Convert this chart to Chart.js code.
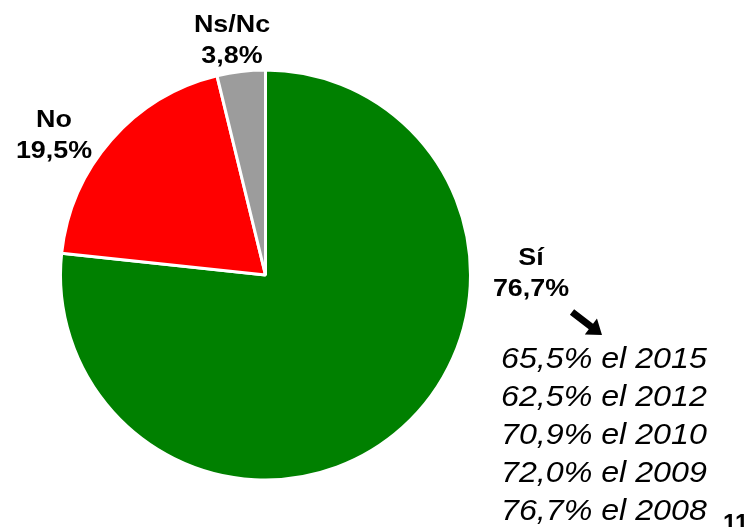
<!DOCTYPE html>
<html>
<head>
<meta charset="utf-8">
<script src="https://cdn.jsdelivr.net/npm/chart.js@4/dist/chart.umd.min.js"></script>
<style>
html,body{margin:0;padding:0;background:#fff;}
canvas{display:block;}
</style>
</head>
<body>
<canvas id="c" width="755" height="527"></canvas>
<script>
const categories = ['Sí', 'No', 'Ns/Nc'];
const values = [76.7, 19.5, 3.8];
const sliceColors = ['#008000', '#FF0000', '#9C9C9C'];
const historyYears = [2015, 2012, 2010, 2009, 2008];
const historyValues = [65.5, 62.5, 70.9, 72.0, 76.7];
const pageNumber = '11';

function fmt(v) { return v.toFixed(1).replace('.', ',') + '%'; }

// label anchor positions (center x, baseline of first line)
const labelPos = [
  {x: 531, y: 265},
  {x: 54, y: 127},
  {x: 232, y: 32}
];

function drawScaled(ctx, text, x, y, align, sx) {
  ctx.save();
  ctx.translate(x, y);
  ctx.scale(sx, 1);
  ctx.textAlign = align;
  ctx.fillText(text, 0, 0);
  ctx.restore();
}

const textPlugin = {
  id: 'texts',
  afterDraw(chart) {
    const ctx = chart.ctx;
    ctx.save();
    ctx.fillStyle = '#000';
    ctx.textBaseline = 'alphabetic';
    ctx.font = 'bold 24px "Liberation Sans", Arial, sans-serif';
    categories.forEach((c, i) => {
      const p = labelPos[i];
      drawScaled(ctx, c, p.x, p.y, 'center', 1.12);
      drawScaled(ctx, fmt(values[i]), p.x, p.y + 31, 'center', 1.12);
    });
    // arrow
    ctx.save();
    ctx.translate(572, 312);
    ctx.rotate(Math.atan2(335 - 312, 602 - 572));
    const len = Math.hypot(602 - 572, 335 - 312);
    ctx.beginPath();
    ctx.moveTo(0, -3.5);
    ctx.lineTo(len - 14, -3.5);
    ctx.lineTo(len - 14, -10);
    ctx.lineTo(len, 0);
    ctx.lineTo(len - 14, 10);
    ctx.lineTo(len - 14, 3.5);
    ctx.lineTo(0, 3.5);
    ctx.closePath();
    ctx.fill();
    ctx.restore();
    // history
    ctx.font = 'italic 29px "Liberation Sans", Arial, sans-serif';
    historyYears.forEach((y, i) => {
      drawScaled(ctx, fmt(historyValues[i]) + ' el ' + y, 501, 368 + i * 38, 'left', 1.11);
    });
    ctx.font = 'bold 24px "Liberation Sans", Arial, sans-serif';
    drawScaled(ctx, pageNumber, 723, 531, 'left', 1.0);
    ctx.restore();
  }
};

new Chart(document.getElementById('c'), {
  type: 'pie',
  data: {
    labels: categories,
    datasets: [{
      data: values,
      backgroundColor: sliceColors,
      borderColor: '#FFFFFF',
      borderWidth: 3,
      hoverOffset: 0
    }]
  },
  options: {
    responsive: false,
    animation: false,
    radius: 205,
    layout: { padding: { left: 0, right: 224, top: 23, bottom: 0 } },
    plugins: { legend: { display: false }, tooltip: { enabled: false } }
  },
  plugins: [textPlugin]
});
</script>
</body>
</html>
